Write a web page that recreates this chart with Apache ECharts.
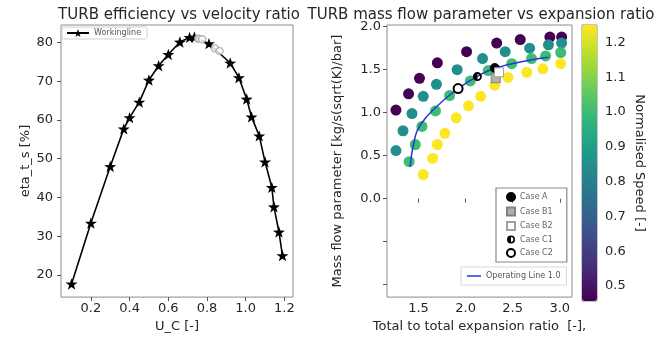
<!DOCTYPE html>
<html>
<head>
<meta charset="utf-8">
<script src="https://cdn.jsdelivr.net/npm/echarts@6/dist/echarts.min.js"></script>
<style>
  html, body { margin: 0; padding: 0; background: #fff; }
  #main { width: 669px; height: 338px; }
</style>
</head>
<body>
<div id="main"></div>
<script>
// left plot: working line, efficiency vs velocity ratio
var ucWorking = [0.10, 0.20, 0.30, 0.37, 0.40, 0.45, 0.50, 0.55, 0.60, 0.66, 0.71, 0.735, 0.81, 0.92, 0.965, 1.005, 1.03, 1.07, 1.10, 1.135, 1.146, 1.172, 1.19];
var etaWorking = [17.7, 33.4, 48.0, 57.7, 60.6, 64.6, 70.3, 74.0, 76.9, 80.1, 81.3, 81.4, 79.7, 74.7, 70.9, 65.4, 60.8, 55.9, 49.2, 42.6, 37.6, 31.1, 25.0];
var ucCases = [0.755, 0.775, 0.84, 0.865];
var etaCases = [81.0, 80.8, 78.5, 77.8];

// right plot: mass flow parameter vs expansion ratio, one list per speed line
var speedLevels = [0.46, 0.85, 1.0, 1.25];
var prSpeed1 = [1.26, 1.394, 1.51, 1.70, 2.01, 2.33, 2.58, 2.895, 3.02];
var mfpSpeed1 = [1.03, 1.22, 1.40, 1.58, 1.71, 1.81, 1.85, 1.88, 1.88];
var prSpeed2 = [1.26, 1.335, 1.43, 1.55, 1.69, 1.91, 2.18, 2.42, 2.68, 2.88, 3.02];
var mfpSpeed2 = [0.56, 0.79, 0.99, 1.19, 1.33, 1.50, 1.63, 1.71, 1.75, 1.79, 1.81];
var prSpeed3 = [1.40, 1.465, 1.536, 1.68, 1.83, 2.05, 2.24, 2.49, 2.70, 2.85, 3.01];
var mfpSpeed3 = [0.43, 0.63, 0.84, 1.02, 1.20, 1.37, 1.49, 1.57, 1.63, 1.66, 1.70];
var prSpeed4 = [1.55, 1.65, 1.70, 1.78, 1.90, 2.03, 2.16, 2.31, 2.45, 2.65, 2.82, 3.01];
var mfpSpeed4 = [0.28, 0.47, 0.63, 0.76, 0.94, 1.08, 1.19, 1.32, 1.41, 1.47, 1.51, 1.57];

var caseNames = ['Case A', 'Case B1', 'Case B2', 'Case C1', 'Case C2'];
var prCase = [2.31, 2.32, 2.355, 2.125, 1.92];
var mfpCase = [1.52, 1.40, 1.47, 1.42, 1.28];

var prOpLine = [1.41, 1.46, 1.52, 1.69, 1.92, 2.12, 2.32, 2.68, 2.88];
var mfpOpLine = [0.37, 0.70, 0.86, 1.07, 1.28, 1.42, 1.52, 1.61, 1.645];

var xTicksLeft = [0.2, 0.4, 0.6, 0.8, 1.0, 1.2];
var yTicksLeft = [20, 30, 40, 50, 60, 70, 80];
var xTicksRight = [1.5, 2.0, 2.5, 3.0];
var yTicksRight = [-1.0, -0.5, 0.0, 0.5, 1.0, 1.5, 2.0];
var yLabelsRight = [0.0, 0.5, 1.0, 1.5, 2.0];
var cbarTicks = [0.5, 0.6, 0.7, 0.8, 0.9, 1.0, 1.1, 1.2];

var viridis = ['#440154', '#482878', '#3e4989', '#31688e', '#26828e', '#1f9e89', '#35b779', '#6ece58', '#b5de2b', '#fde725'];

var star = 'path://M0,-100L23.5,-32.4L95.1,-30.9L38,12.4L58.8,80.9L0,40L-58.8,80.9L-38,12.4L-95.1,-30.9L-23.5,-32.4Z';
var halfCircle = 'path://M0,-10A10,10,0,1,1,0,10A10,10,0,1,1,0,-10ZM0,-6L0,6A6,6,0,0,0,0,-6Z';

function zip(a, b) {
  return a.map(function (v, i) { return [v, b[i]]; });
}

var speedData = [];
[[prSpeed1, mfpSpeed1], [prSpeed2, mfpSpeed2], [prSpeed3, mfpSpeed3], [prSpeed4, mfpSpeed4]].forEach(function (p, k) {
  p[0].forEach(function (x, i) { speedData.push([x, p[1][i], speedLevels[k]]); });
});

var txt = '#262626';
var frame = '#8c8c8c';
var fontFam = 'DejaVu Sans';

function fmt1(v) { return v.toFixed(1); }

var caseStyles = [
  { symbol: 'circle', color: '#000', borderColor: '#000', borderWidth: 1 },
  { symbol: 'rect', color: '#b0b0b0', borderColor: '#808080', borderWidth: 1 },
  { symbol: 'rect', color: '#fff', borderColor: '#a0a0a0', borderWidth: 1 },
  { symbol: halfCircle, color: '#000', borderColor: '#000', borderWidth: 0 },
  { symbol: 'circle', color: '#fff', borderColor: '#000', borderWidth: 2 }
];

var caseSeries = caseNames.map(function (n, i) {
  var s = caseStyles[i];
  return {
    name: n, type: 'scatter', xAxisIndex: 1, yAxisIndex: 1,
    symbol: s.symbol, symbolSize: 9, z: 5,
    itemStyle: { color: s.color, borderColor: s.borderColor, borderWidth: s.borderWidth, opacity: 1 },
    data: [[prCase[i], mfpCase[i]]]
  };
});

var myChart = echarts.init(document.getElementById('main'));
var option = {
  animation: false,
  backgroundColor: '#fff',
  textStyle: { fontFamily: fontFam },
  title: [
    { text: 'TURB efficiency vs velocity ratio', left: 174, top: 3, textAlign: 'center',
      textStyle: { fontSize: 15, fontWeight: 'normal', color: txt, fontFamily: fontFam } },
    { text: 'TURB mass flow parameter vs expansion ratio', left: 476, top: 3, textAlign: 'center',
      textStyle: { fontSize: 15, fontWeight: 'normal', color: txt, fontFamily: fontFam } }
  ],
  grid: [
    { left: 61, top: 25, width: 232, height: 276, show: true, borderColor: frame, borderWidth: 1 },
    { left: 387, top: 25, width: 185, height: 276, show: true, borderColor: frame, borderWidth: 1 },
    { left: 582, top: 25, width: 15, height: 276, show: true, borderColor: frame, borderWidth: 1 }
  ],
  legend: [
    { data: ['Workingline'], left: 62, top: 27, padding: [2, 6, 2, 4], itemWidth: 22, itemHeight: 10,
      borderColor: '#d0d0d0', borderWidth: 1, borderRadius: 2,
      textStyle: { fontSize: 8, color: '#555', fontFamily: fontFam } },
    { data: caseNames, orient: 'vertical', left: 496, top: 188, width: 72,
      padding: [4, 14, 4, 10], itemWidth: 8, itemHeight: 8, itemGap: 4.5,
      borderColor: '#888', borderWidth: 1.2,
      textStyle: { fontSize: 8, color: '#666', fontFamily: fontFam } },
    { data: [{ name: 'Operating Line 1.0', icon: 'rect' }], left: 461, top: 267, padding: [5, 6, 5, 6],
      itemWidth: 14, itemHeight: 1.5,
      borderColor: '#d8d8d8', borderWidth: 1,
      textStyle: { fontSize: 8, color: '#555', fontFamily: fontFam } }
  ],
  visualMap: {
    type: 'continuous', min: 0.457, max: 1.25, dimension: 2, seriesIndex: 2,
    left: 582, top: 25, itemWidth: 15, itemHeight: 276, padding: 0,
    calculable: false, hoverLink: false, text: null, showLabel: false,
    inRange: { color: viridis }
  },
  xAxis: [
    { gridIndex: 0, type: 'value', min: 0.0455, max: 1.2445,
      name: 'U_C [-]', nameLocation: 'middle', nameGap: 18,
      nameTextStyle: { fontSize: 13, color: txt },
      axisLine: { show: false }, splitLine: { show: false },
      axisTick: { show: true, length: 4, customValues: xTicksLeft, lineStyle: { color: '#555' } },
      axisLabel: { customValues: xTicksLeft, formatter: fmt1, fontSize: 13, color: txt, margin: 5 } },
    { gridIndex: 1, type: 'value', min: 1.165, max: 3.13,
      name: 'Total to total expansion ratio  [-],', nameLocation: 'middle', nameGap: 19,
      nameTextStyle: { fontSize: 13, color: txt },
      axisLine: { show: false }, splitLine: { show: false },
      axisTick: { show: true, length: 4, customValues: xTicksRight, lineStyle: { color: '#555' } },
      axisLabel: { customValues: xTicksRight, formatter: fmt1, fontSize: 13, color: txt, margin: 5 } },
    { gridIndex: 2, type: 'value', min: 0, max: 1, show: false }
  ],
  yAxis: [
    { gridIndex: 0, type: 'value', min: 14.3, max: 84.5,
      name: 'eta_t_s [%]', nameLocation: 'middle', nameGap: 28,
      nameTextStyle: { fontSize: 13, color: txt },
      axisLine: { show: false }, splitLine: { show: false },
      axisTick: { show: true, length: 4, customValues: yTicksLeft, lineStyle: { color: '#555' } },
      axisLabel: { customValues: yTicksLeft, fontSize: 13, color: txt, margin: 8 } },
    { gridIndex: 1, type: 'value', min: -1.145, max: 2.02,
      name: 'Mass flow parameter [kg/s(sqrt(K)/bar]', nameLocation: 'middle', nameGap: 43,
      nameTextStyle: { fontSize: 13, color: txt },
      axisLine: { show: false }, splitLine: { show: false },
      axisTick: { show: true, length: 4, customValues: yTicksRight, lineStyle: { color: '#555' } },
      axisLabel: { customValues: yLabelsRight, formatter: fmt1, fontSize: 13, color: txt, margin: 6 } },
    { gridIndex: 2, type: 'value', min: 0.457, max: 1.25, position: 'right',
      name: 'Normalised Speed [-]', nameLocation: 'middle', nameGap: 36, nameRotate: -90,
      nameTextStyle: { fontSize: 13, color: txt },
      axisLine: { show: false }, splitLine: { show: false },
      axisTick: { show: true, length: 4, customValues: cbarTicks, lineStyle: { color: '#555' } },
      axisLabel: { customValues: cbarTicks, formatter: fmt1, fontSize: 13, color: txt, margin: 8 } }
  ],
  series: [
    { name: 'Workingline', type: 'line', xAxisIndex: 0, yAxisIndex: 0,
      data: zip(ucWorking, etaWorking), symbol: star, symbolSize: 12, symbolKeepAspect: true,
      lineStyle: { color: '#000', width: 1.6 }, itemStyle: { color: '#000' }, z: 3 },
    { name: 'cases', type: 'scatter', xAxisIndex: 0, yAxisIndex: 0,
      data: zip(ucCases, etaCases), symbol: 'circle', symbolSize: 7,
      itemStyle: { color: '#fff', borderColor: '#a8a8a8', borderWidth: 1.5 }, z: 4 },
    { name: 'speed', type: 'scatter', xAxisIndex: 1, yAxisIndex: 1,
      data: speedData, symbolSize: 11, itemStyle: { opacity: 1 }, z: 2 },
    { name: 'Operating Line 1.0', type: 'line', xAxisIndex: 1, yAxisIndex: 1,
      data: zip(prOpLine, mfpOpLine), smooth: true, showSymbol: false, symbol: 'none',
      lineStyle: { color: '#2a35d8', width: 1.5 }, itemStyle: { color: '#2a35d8' }, z: 3 }
  ].concat(caseSeries)
};
myChart.setOption(option);
</script>
</body>
</html>
